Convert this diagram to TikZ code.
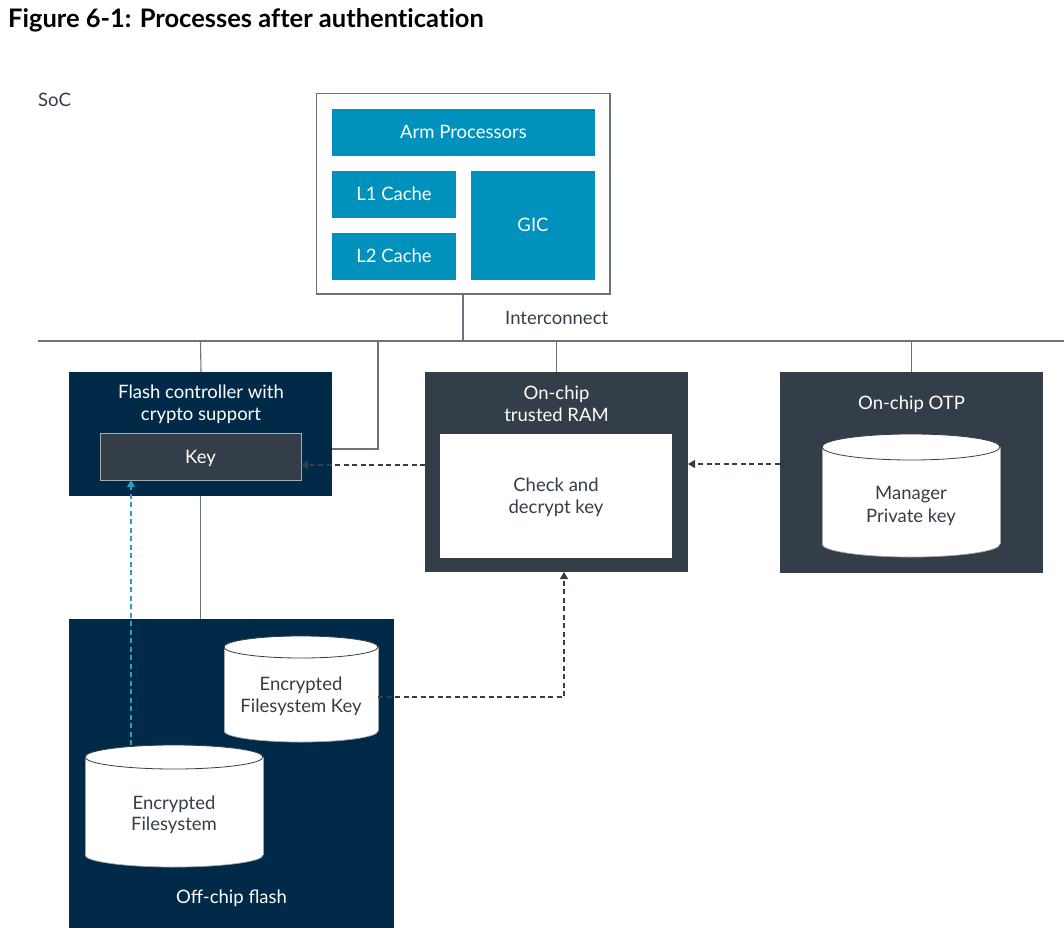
\documentclass[tikz,border=0pt]{standalone}
\usepackage{fontspec}
\setmainfont{Lato}
\usetikzlibrary{arrows.meta,calc}
\definecolor{navy}{HTML}{012A48}
\definecolor{dgray}{HTML}{333E48}
\definecolor{armblue}{HTML}{0091BD}
\definecolor{lgray}{HTML}{6B747B}
\definecolor{kborder}{HTML}{A7AEB3}
\definecolor{ldash}{HTML}{2E9CC4}
\begin{document}
\begin{tikzpicture}[x=1pt,y=-1pt,
  box/.style={inner sep=0pt,outer sep=0pt,rectangle},
  wt/.style={text=white,font=\fontsize{18.5}{22}\selectfont,anchor=base,inner sep=0pt},
  dt/.style={text=dgray,font=\fontsize{18.5}{22}\selectfont,anchor=base,inner sep=0pt},
  conn/.style={draw=lgray,line width=1.1pt},
  dasharrow/.style={draw=dgray,line width=1.1pt,dash pattern=on 5pt off 3.5pt,-{Triangle[length=7pt,width=8pt]}},
  bluearrow/.style={draw=ldash,line width=1.3pt,dash pattern=on 5pt off 3.5pt,-{Triangle[length=7pt,width=8pt]}},
  cylline/.style={draw=gray!70,line width=0.7pt}
]
\useasboundingbox (0,0) rectangle (1064,936);
\fill[white] (0,0) rectangle (1064,936);

% title
\node[anchor=base west,inner sep=0pt,font=\bfseries\fontsize{25.5}{30}\selectfont\addfontfeatures{Ligatures=NoCommon},text=black] (title) at (8,28) {Figure 6-1: Processes after authentication};
\node[dt,anchor=base west] (soc) at (38,107) {SoC};

% CPU cluster
\draw[lgray,line width=1.1pt,fill=white] (316.5,93.5) rectangle (610,294) coordinate (cpuse);
\node[box,fill=armblue,minimum width=263pt,minimum height=47pt] (arm) at (463.5,132.5) {};
\node[wt] at (463.5,138.5) {Arm Processors};
\node[box,fill=armblue,minimum width=124pt,minimum height=47pt] (l1) at (394,194.5) {};
\node[wt] at (394,200.5) {L1 Cache};
\node[box,fill=armblue,minimum width=124pt,minimum height=47pt] (l2) at (394,256.5) {};
\node[wt] at (394,262.5) {L2 Cache};
\node[box,fill=armblue,minimum width=124pt,minimum height=109pt] (gic) at (533,225.5) {};
\node[wt] at (533,231.5) {GIC};
\coordinate (cpub) at (463,294);

% bus
\coordinate (busL) at (38,341);
\coordinate (busR) at (1064,341);
\draw[conn] (busL) -- (busR);
\draw[conn] (cpub) -- (cpub |- busL);
\node[dt,anchor=base west] (ic) at (505,324) {Interconnect};

% flash controller
\node[box,fill=navy,minimum width=263pt,minimum height=124pt] (fc) at (200.5,434) {};
\node[wt] at (201,398) {Flash controller with};
\node[wt] at (201,420) {crypto support};
\node[box,fill=dgray,draw=kborder,line width=1pt,minimum width=201pt,minimum height=47pt] (key) at (200.5,456.5) {};
\node[wt] at (200.5,463) {Key};

% RAM
\node[box,fill=dgray,minimum width=263pt,minimum height=200pt] (ram) at (556.5,472) {};
\node[wt] at (556.5,399) {On-chip};
\node[wt] at (556.5,421) {trusted RAM};
\node[box,fill=white,minimum width=232pt,minimum height=124pt] (chk) at (556,496) {};
\node[dt] at (556,491) {Check and};
\node[dt] at (556,513) {decrypt key};

% OTP
\node[box,fill=dgray,minimum width=263pt,minimum height=201pt] (otp) at (911.5,472.5) {};
\node[wt] at (911.5,409) {On-chip OTP};

% Off-chip flash
\node[box,fill=navy,minimum width=325pt,minimum height=309pt] (ocf) at (231.5,773.5) {};
\node[wt] at (231.5,903) {Off-chip flash};

% cylinders: x1 x2 topcenter botcenter ry
\newcommand{\mycyl}[5]{%
  \fill[white] (#1,#3) rectangle (#2,#4);
  \fill[white] ({(#1+#2)/2},#4) ellipse [x radius={(#2-#1)/2}, y radius=#5];
  \fill[white] ({(#1+#2)/2},#3) ellipse [x radius={(#2-#1)/2}, y radius=#5];
  \draw[cylline] (#1,#3) -- (#1,#4);
  \draw[cylline] (#2,#3) -- (#2,#4);
  \begin{scope}
    \clip (#1-2,#4) rectangle (#2+2,#4+#5+3);
    \draw[cylline] ({(#1+#2)/2},#4) ellipse [x radius={(#2-#1)/2}, y radius=#5];
  \end{scope}
  \draw[draw=dgray,line width=0.8pt] ({(#1+#2)/2},#3) ellipse [x radius={(#2-#1)/2}, y radius=#5];
}
\mycyl{822}{1000}{447}{544}{13}
\node[box,minimum width=178pt,minimum height=123pt] (mpk) at (911,495.5) {};
\node[dt] at (911,499) {Manager};
\node[dt] at (911,522) {Private key};

\mycyl{224}{378}{647}{731}{11}
\node[box,minimum width=154pt,minimum height=106pt] (efsk) at (301,689) {};
\node[dt] at (301,690) {Encrypted};
\node[dt] at (301,712) {Filesystem Key};

\mycyl{85}{263}{757}{855}{12}
\node[box,minimum width=178pt,minimum height=122pt] (efs) at (174,806) {};
\node[dt] at (174,809) {Encrypted};
\node[dt] at (174,830) {Filesystem};

% interconnect drops
\draw[conn] (fc.north -| 201,0) -- (busL -| fc.north);
\coordinate (d2) at (378,341);
\draw[conn] (d2) |- (fc.east |- 0,449);
\draw[conn] (ram.north) -- (ram.north |- busL);
\draw[conn] (otp.north) -- (otp.north |- busL);
\draw[conn] (fc.south) -- (ocf.north -| fc.south);

% dashed arrows
\coordinate (y465) at (0,465);
\draw[dasharrow] (ram.west |- y465) -- (key.east |- y465);
\coordinate (y464) at (0,464);
\draw[dasharrow] (mpk.west |- y464) -- (ram.east |- y464);
\coordinate (y697) at (0,697);
\coordinate (x564) at (564,0);
\draw[dasharrow] (efsk.east |- y697) -| (ram.south -| x564);
\coordinate (x131) at (131,0);
\draw[bluearrow] (efs.north -| x131) -- (key.south -| x131);
\end{tikzpicture}
\end{document}
